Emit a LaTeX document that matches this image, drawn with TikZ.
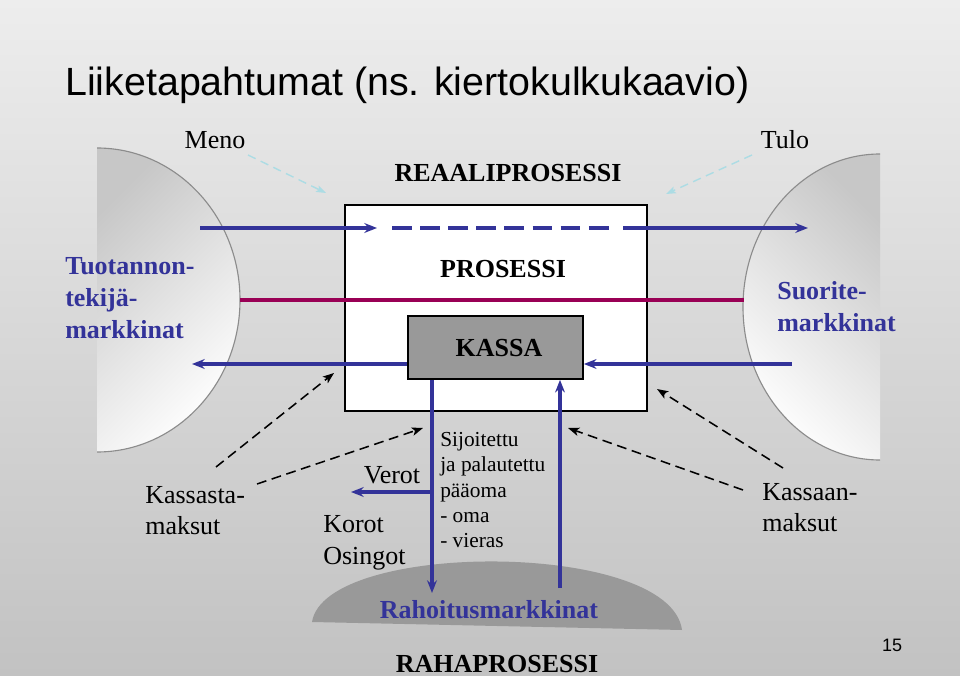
\documentclass[tikz,border=0pt]{standalone}
\usepackage{fontspec}
\setmainfont{Liberation Serif}
\newfontfamily\slidefont{Liberation Sans}
\usetikzlibrary{arrows.meta,fit}
\definecolor{flowblue}{RGB}{51,51,153}
\definecolor{realred}{RGB}{153,0,85}
\definecolor{hintcyan}{RGB}{172,220,228}
\definecolor{bgtop}{RGB}{237,237,237}
\definecolor{bgbottom}{RGB}{194,194,194}
\colorlet{kassagray}{black!40}
\tikzset{
        lbl/.style={font=\fontsize{18.5}{22.5}\selectfont, inner sep=0pt},
        boldlbl/.style={font=\fontsize{18.5}{22.5}\selectfont\bfseries, inner sep=0pt},
        mkt/.style={font=\fontsize{18.5}{22.8}\selectfont\bfseries, text=flowblue, align=left, inner sep=0pt},
        flowline/.style={draw=flowblue, line width=2.6pt},
        flow/.style={flowline, -{Stealth[length=9pt,width=7pt,inset=3pt]}},
        cashflow/.style={draw=black, line width=1.1pt, dash pattern=on 7pt off 4pt, -{Stealth[length=8pt,width=6pt,inset=2pt]}},
        hint/.style={draw=hintcyan, line width=1pt, dash pattern=on 6pt off 4pt, -{Stealth[length=7pt,width=5pt,inset=1.5pt]}}
}
\begin{document}
\begin{tikzpicture}[x=0.25mm, y=-0.25mm]
        \useasboundingbox (0,0) rectangle (960,676);
        \shade [top color=bgtop, bottom color=bgbottom] (0,0) rectangle (960,676);

        \begin{scope}
                \clip (97,140) rectangle (250,460);
                \begin{scope}
                        \clip (97,300) ellipse [x radius=143, y radius=152];
                        \shade [top color=black!22, bottom color=white, shading angle=45] (97,148) rectangle (240,452);
                \end{scope}
                \draw [black!45, line width=0.8pt] (97,300) ellipse [x radius=143, y radius=152];
        \end{scope}
        \begin{scope}
                \clip (735,145) rectangle (880,470);
                \begin{scope}
                        \clip (880,307) ellipse [x radius=137, y radius=153];
                        \shade [top color=black!22, bottom color=white, shading angle=-45] (743,154) rectangle (880,460);
                \end{scope}
                \draw [black!45, line width=0.8pt] (880,307) ellipse [x radius=137, y radius=153];
        \end{scope}

        \fill [kassagray] (312,622) .. controls (325,540) and (670,540) .. (682,630) -- cycle;

        \node (proc) [fit={(345,205) (647,411)}, draw, fill=white, line width=1.2pt, inner sep=0pt] {};
        \node (kassa) [fit={(408,316) (583,379)}, draw, fill=kassagray, line width=1.2pt, inner sep=0pt] {};
        \node (kassalbl) at (499,357) [anchor=base, boldlbl] {KASSA};

        \coordinate (buyL) at (200,228);
        \coordinate (buyIn) at (377,228);
        \coordinate (dashL) at (392,228);
        \coordinate (dashR) at (610,228);
        \coordinate (sellIn) at (623,228);
        \coordinate (sellR) at (808,228);
        \coordinate (realL) at (240,300);
        \coordinate (realR) at (744,300);
        \coordinate (payL) at (192,364);
        \coordinate (payR) at (792,364);
        \coordinate (finOut) at (432,593);
        \coordinate (finIn) at (560,588);
        \coordinate (tax) at (351,492);

        \draw [flow] (buyL) -- (buyIn);
        \draw [flowline, dash pattern=on 14pt off 6pt] (dashL) -- (dashR);
        \draw [flow] (sellIn) -- (sellR);
        \draw [realred, line width=2.6pt] (realL) -- (realR);
        \draw [flow] (payR) -- (payR -| kassa.east);
        \draw [flow] (payL -| kassa.west) -- (payL);
        \draw [flow] (kassa.south -| finOut) -- (finOut);
        \draw [flow] (finIn) -- (kassa.south -| finIn);
        \draw [flow] (tax -| finOut) -- (tax);

        \coordinate (spendA) at (216,467);
        \coordinate (spendAtip) at (334,373);
        \coordinate (spendB) at (257,484);
        \coordinate (spendBtip) at (423,428);
        \coordinate (earnA) at (783,468);
        \coordinate (earnAtip) at (657,389);
        \coordinate (earnB) at (743,490);
        \coordinate (earnBtip) at (568,428);
        \draw [cashflow] (spendA) -- (spendAtip);
        \draw [cashflow] (spendB) -- (spendBtip);
        \draw [cashflow] (earnA) -- (earnAtip);
        \draw [cashflow] (earnB) -- (earnBtip);

        \coordinate (menoFrom) at (248,155);
        \coordinate (menoTo) at (326,193);
        \coordinate (tuloFrom) at (752,155);
        \coordinate (tuloTo) at (666,194);
        \draw [hint] (menoFrom) -- (menoTo);
        \draw [hint] (tuloFrom) -- (tuloTo);

        \node (title) at (65,96) [anchor=base west, inner sep=0pt, font=\slidefont\fontsize{28}{34}\selectfont] {Liiketapahtumat (ns. kiertokulkukaavio)};
        \node (meno) at (215,149) [anchor=base, lbl] {Meno};
        \node (tulo) at (785,149) [anchor=base, lbl] {Tulo};
        \node (reaali) at (508,182) [anchor=base, boldlbl] {REAALIPROSESSI};
        \node (prosessi) at (503,278) [anchor=base, boldlbl] {PROSESSI};
        \node (tuot) at (65,257) [anchor=north west, mkt] {Tuotannon-\\tekijä-\\markkinat};
        \node (suor) at (777,281) [anchor=north west, mkt] {Suorite-\\markkinat};
        \node (kassasta) at (145,486) [anchor=north west, lbl, align=left, font=\fontsize{18.5}{22}\selectfont] {Kassasta-\\maksut};
        \node (kassaan) at (762,483) [anchor=north west, lbl, align=left, font=\fontsize{18.5}{22}\selectfont] {Kassaan-\\maksut};
        \node (verot) at (392,483) [anchor=base, lbl] {Verot};
        \node (korot) at (323,515) [anchor=north west, lbl, align=left, font=\fontsize{18.5}{22.7}\selectfont] {Korot\\Osingot};
        \node (paaoma) at (440,432) [anchor=north west, lbl, align=left, font=\fontsize{15.2}{18}\selectfont] {Sijoitettu\\ja palautettu\\pääoma\\- oma\\- vieras};
        \node (rahoit) at (489,618) [anchor=base, mkt] {Rahoitusmarkkinat};
        \node (raha) at (497,672) [anchor=base, boldlbl] {RAHAPROSESSI};
        \node (page) at (892,651) [anchor=base, inner sep=0pt, font=\slidefont\fontsize{12.8}{15}\selectfont] {15};
\end{tikzpicture}
\end{document}
